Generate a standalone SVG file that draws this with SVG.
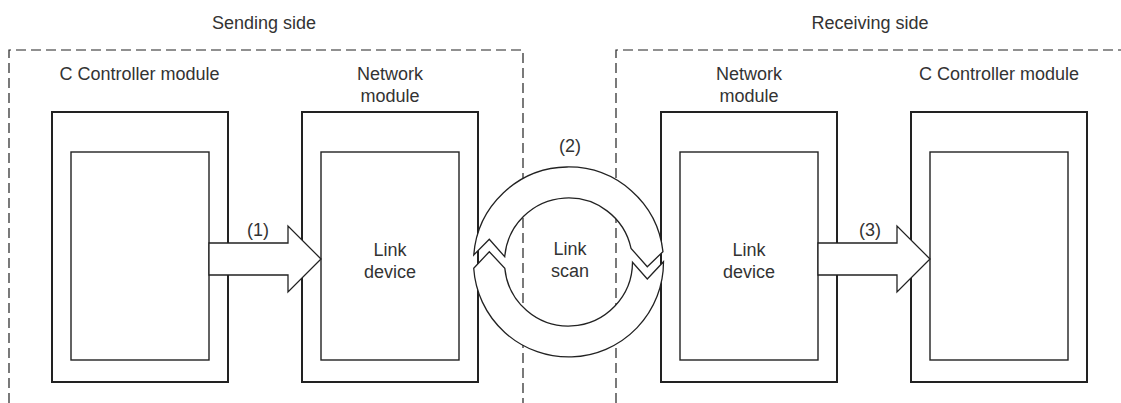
<svg xmlns="http://www.w3.org/2000/svg" width="1121" height="403" viewBox="0 0 1121 403">
<style>
.t{font-family:"Liberation Sans",Arial,sans-serif;font-size:18px;fill:#333;text-anchor:middle}
.dash{fill:none;stroke:#222;stroke-width:1.2;stroke-dasharray:10 5}
.outer{fill:#fff;stroke:#222;stroke-width:2}
.inner{fill:#fff;stroke:#222;stroke-width:1.4}
.arr{fill:#fff;stroke:#222;stroke-width:1.3;stroke-linejoin:miter}
</style>
<rect width="1121" height="403" fill="#fff"/>
<g id="sending-side">
<path class="dash" d="M9,403 V50 H523 V403"/>
<text class="t" x="264" y="29">Sending side</text>
</g>
<g id="receiving-side">
<path class="dash" d="M616,403 V50 H1121"/>
<text class="t" x="870" y="29">Receiving side</text>
</g>
<g id="cc-send">
<text class="t" x="139.5" y="80">C Controller module</text>
<rect class="outer" x="52" y="112" width="176" height="270"/>
<rect class="inner" x="71" y="152" width="138" height="208"/>
</g>
<g id="net-send">
<text class="t" x="390" y="80">Network</text>
<text class="t" x="390" y="102">module</text>
<rect class="outer" x="302" y="112" width="176" height="270"/>
<rect class="inner" x="321" y="152" width="138" height="208"/>
<text class="t" x="390" y="256">Link</text>
<text class="t" x="390" y="278">device</text>
</g>
<g id="net-recv">
<text class="t" x="749" y="80">Network</text>
<text class="t" x="749" y="102">module</text>
<rect class="outer" x="661" y="112" width="176" height="270"/>
<rect class="inner" x="680" y="152" width="138" height="208"/>
<text class="t" x="749" y="256">Link</text>
<text class="t" x="749" y="278">device</text>
</g>
<g id="cc-recv">
<text class="t" x="999" y="80">C Controller module</text>
<rect class="outer" x="911" y="112" width="176" height="270"/>
<rect class="inner" x="930" y="152" width="138" height="208"/>
</g>
<g id="connectors">
<path class="arr" d="M209,243 H288 V226 L321,259 L288,292 V275 H209 Z"/>
<text class="t" x="258" y="236">(1)</text>
<path class="arr" d="M818,243 H897 V226 L930,259 L897,292 V275 H818 Z"/>
<text class="t" x="870" y="236">(3)</text>
<path class="arr" d="M473.76,254.96 A95,95 0 0 1 662.94,251.67 L647.3,266.7 L631.05,248.44 A64,64 0 0 0 504.72,256.68 L489.3,239.3 Z"/>
<path class="arr" d="M663.5,261.7 A95,95 0 0 1 473.71,268.28 L489.3,251.7 L504.81,268.32 A64,64 0 0 0 632.5,262.3 L647.3,279 Z"/>
<text class="t" x="570" y="152">(2)</text>
<text class="t" x="570" y="255">Link</text>
<text class="t" x="570" y="277">scan</text>
</g>
</svg>
